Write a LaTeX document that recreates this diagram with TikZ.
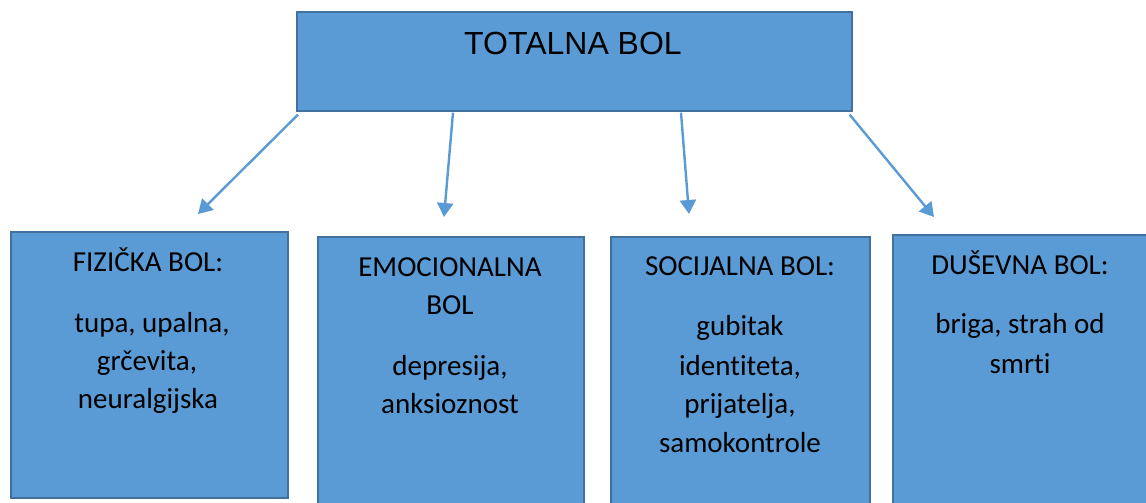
\documentclass[tikz,border=0pt]{standalone}
\usepackage{fontspec}
\setmainfont{Carlito}[Ligatures={NoCommon}]
\newfontfamily\arialf{Liberation Sans}
\usetikzlibrary{arrows.meta}
\definecolor{boxfill}{HTML}{5B9BD5}
\definecolor{boxline}{HTML}{41719C}
\definecolor{arrowc}{HTML}{5B9BD5}
\tikzset{
  box/.style={draw=boxline, fill=boxfill, line width=1.6pt, rectangle, anchor=north west, inner sep=0pt},
  txt/.style={anchor=base, inner sep=0pt, font=\fontsize{29}{35}\selectfont, text=black},
  conn/.style={draw=arrowc, line width=2.4pt, -{Triangle[length=14pt,width=16pt]}}
}
\begin{document}
\begin{tikzpicture}[x=1pt,y=-1pt]
\useasboundingbox (0,0) rectangle (1146,503);
\fill[white] (0,0) rectangle (1146,503);
% boxes
\node[box, minimum width=555pt, minimum height=99pt] (top) at (296,11) {};
\node[box, minimum width=277pt, minimum height=266pt] (b1) at (10,231) {};
\node[box, minimum width=266pt, minimum height=290pt] (b2) at (317,236) {};
\node[box, minimum width=259pt, minimum height=290pt] (b3) at (610,236) {};
\node[box, minimum width=262pt, minimum height=290pt] (b4) at (892,234) {};
% title
\node[anchor=base, inner sep=0pt, font=\arialf\fontsize{32}{38}\selectfont] (title) at (573,55) {TOTALNA BOL};
% box 1
\node[txt] (h1) at (148,271) {FIZIČKA BOL:};
\node[txt] (l1a) at (152,332) {tupa, upalna,};
\node[txt] (l1b) at (147,370) {grčevita,};
\node[txt] (l1c) at (148,408) {neuralgijska};
% box 2
\node[txt] (h2a) at (450,276) {EMOCIONALNA};
\node[txt] (h2b) at (450,314) {BOL};
\node[txt] (l2a) at (450,375) {depresija,};
\node[txt] (l2b) at (450,413) {anksioznost};
% box 3
\node[txt] (h3) at (740,275) {SOCIJALNA BOL:};
\node[txt] (l3a) at (740,335) {gubitak};
\node[txt] (l3b) at (740,375) {identiteta,};
\node[txt] (l3c) at (740,413) {prijatelja,};
\node[txt] (l3d) at (740,452) {samokontrole};
% box 4
\node[txt] (h4) at (1020,274) {DUŠEVNA BOL:};
\node[txt] (l4a) at (1020,333) {briga, strah od};
\node[txt] (l4b) at (1020,373) {smrti};
% arrow tips
\coordinate (t1) at (198,214);
\coordinate (t2) at (444,217);
\coordinate (t3) at (689,214);
\coordinate (t4) at (934,217);
% arrows
\draw[conn] ([shift={(2,3)}]top.south west) -- (t1);
\draw[conn] ([shift={(157,1)}]top.south west) -- (t2);
\draw[conn] ([shift={(385,1)}]top.south west) -- (t3);
\draw[conn] ([shift={(-3,3)}]top.south east) -- (t4);
\end{tikzpicture}
\end{document}
